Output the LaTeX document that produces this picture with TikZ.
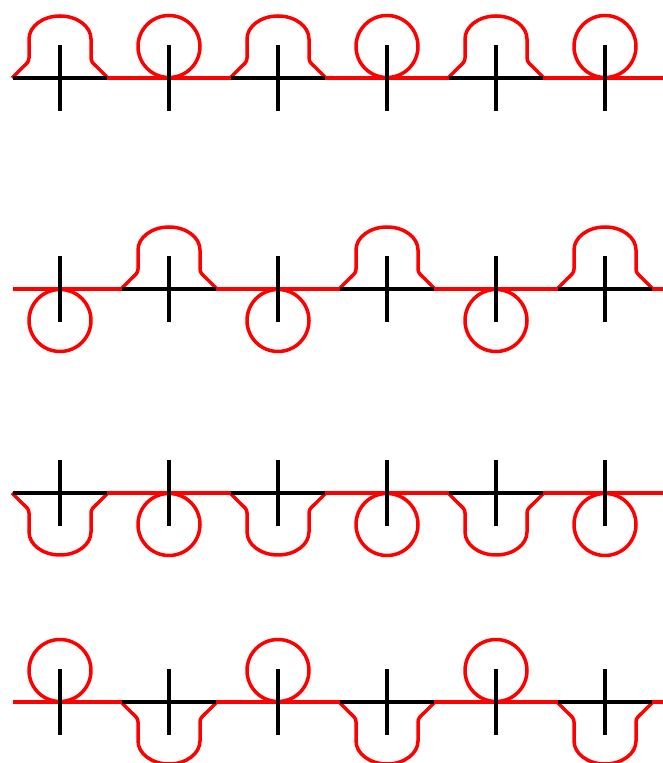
\documentclass[tikz,border=0pt]{standalone}
\begin{document}
\begin{tikzpicture}[x=1pt,y=1pt,
  redline/.style={draw=red, line width=3.5pt, line join=round},
  blackline/.style={draw=black, line width=4pt},
  pics/bump/.style={code={
    \draw[redline] (-48,0) -- (-37,11) to[out=45,in=-90] (-31,20) -- (-31,39)
      arc[start angle=180, end angle=0, x radius=31, y radius=23]
      -- (31,20) to[out=-90,in=135] (37,11) -- (48,0);
    \draw[blackline] (-47,0) -- (47,0);
    \draw[blackline] (0,-33) -- (0,33);
  }},
  pics/loopc/.style={code={
    \draw[redline] (0,31.5) circle[radius=31];
    \draw[blackline] (0,-33) -- (0,33);
  }}
]
\useasboundingbox[fill=white] (0,0) rectangle (663,763);
% baselines
\foreach \yy in {685,474,270,61} {
  \draw[redline] (13,\yy) -- (663,\yy);
}
% row 1
\foreach \xx in {60,278,496} { \pic at (\xx,685) {bump}; }
\foreach \xx in {169,387,605} { \pic at (\xx,685) {loopc}; }
% row 2
\foreach \xx in {60,278,496} { \pic[yscale=-1] at (\xx,474) {loopc}; }
\foreach \xx in {169,387,605} { \pic at (\xx,474) {bump}; }
% row 3
\foreach \xx in {60,278,496} { \pic[yscale=-1] at (\xx,270) {bump}; }
\foreach \xx in {169,387,605} { \pic[yscale=-1] at (\xx,270) {loopc}; }
% row 4
\foreach \xx in {60,278,496} { \pic at (\xx,61) {loopc}; }
\foreach \xx in {169,387,605} { \pic[yscale=-1] at (\xx,61) {bump}; }
\end{tikzpicture}
\end{document}
